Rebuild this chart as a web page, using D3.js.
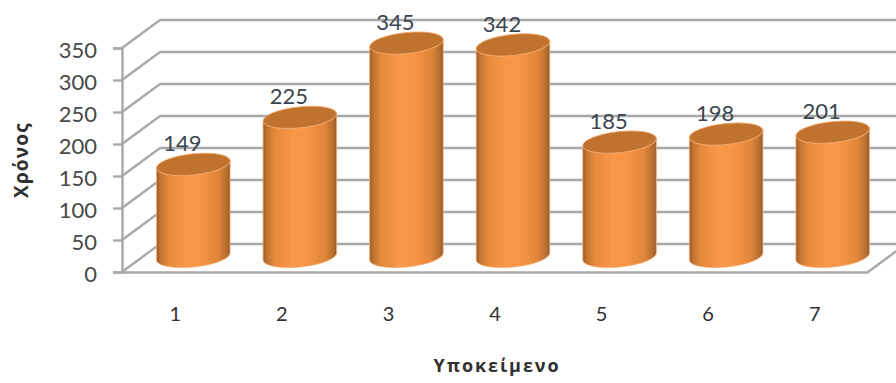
<!DOCTYPE html>
<html lang="el">
<head>
<meta charset="utf-8">
<script src="https://cdn.jsdelivr.net/npm/d3@7"></script>
<style>
html, body { margin: 0; padding: 0; background: #fff; }
svg { display: block; }
text { font-family: Lato, "Open Sans", sans-serif; }
</style>
</head>
<body>
<svg id="chart" width="896" height="383"></svg>
<script>
const subjects = ["1", "2", "3", "4", "5", "6", "7"];
const times = [149, 225, 345, 342, 185, 198, 201];
const yTicks = [0, 50, 100, 150, 200, 250, 300, 350];
const xTitle = "Υποκείμενο";
const yTitle = "Χρόνος";

const W = 896, H = 383;
// Oblique projection of the chart box: the back wall sits up and to the right.
const depthX = 38, depthY = -28;
const svg = d3.select("#chart");

const x = d3.scaleBand().domain(subjects).range([122, 868]);
const y = d3.scaleLinear().domain([0, 350]).range([272, 48]);
// Cylinders stand midway through the depth of the box.
const barY = d3.scaleLinear().domain([0, 350]).range([256.5, 40]);
const barCx = s => x(s) + x.bandwidth() / 2 + depthX / 2 - 1;

const rx = 37, ry = 10.5, tilt = 6;
const cosT = Math.cos(tilt * Math.PI / 180), sinT = Math.sin(tilt * Math.PI / 180);

const defs = svg.append("defs");
const side = defs.append("linearGradient").attr("id", "cyl-side");
[[0, "#96592a"], [0.05, "#c07431"], [0.16, "#e6893b"], [0.4, "#f9974a"], [0.6, "#f79445"],
 [0.84, "#e0853a"], [0.95, "#b86f30"], [1, "#96592a"]]
  .forEach(([o, c]) => side.append("stop").attr("offset", o).attr("stop-color", c));

const gridColor = "#a9a9a9", gridWidth = 2.4;

// Back wall gridlines and the oblique side-wall lines running to them.
const walls = svg.append("g").attr("fill", "none").attr("stroke", gridColor).attr("stroke-width", gridWidth);
walls.selectAll("line.back").data(yTicks).join("line").attr("class", "back")
  .attr("x1", 122 + depthX).attr("x2", W)
  .attr("y1", d => y(d) + depthY).attr("y2", d => y(d) + depthY);
walls.selectAll("line.sidewall").data(yTicks).join("line").attr("class", "sidewall")
  .attr("x1", 122).attr("x2", 122 + depthX)
  .attr("y1", d => y(d)).attr("y2", d => y(d) + depthY);
// Floor edge on the right of the box.
walls.append("line")
  .attr("x1", x.range()[1]).attr("y1", y(0))
  .attr("x2", x.range()[1] + depthX).attr("y2", y(0) + depthY);

// Value axis with outward ticks.
const yAxis = svg.append("g").attr("transform", "translate(122,0)")
  .call(d3.axisLeft(y).tickValues(yTicks).tickSize(9).tickPadding(16));
yAxis.selectAll("path,line").attr("stroke", gridColor).attr("stroke-width", gridWidth);
yAxis.selectAll("text").attr("fill", "#484848").style("font-size", "22px")
  .style("font-family", "Lato, sans-serif").attr("dy", "0.42em");

// Category axis: the front floor edge, with plain labels below it.
const xAxis = svg.append("g").attr("transform", `translate(0,${y(0)})`)
  .call(d3.axisBottom(x).tickSize(0).tickPadding(35));
xAxis.selectAll("path").attr("stroke", gridColor).attr("stroke-width", gridWidth);
xAxis.selectAll("text").attr("fill", "#303030").style("font-size", "20px")
  .style("font-family", "Lato, sans-serif");

// Body outline of a cylinder: down the left side, round the front of the base, back up the right.
function bodyPath(v, s) {
  const cx = barCx(s), top = barY(v), base = barY(0);
  const dx = rx * cosT, dy = rx * sinT;
  return `M${cx - dx},${top + dy}` +
    `L${cx - dx},${base + dy}` +
    `A${rx},${ry} ${-tilt} 0 0 ${cx + dx},${base - dy}` +
    `L${cx + dx},${top - dy}` +
    `A${rx},${ry} ${-tilt} 0 1 ${cx - dx},${top + dy}Z`;
}

const bars = svg.selectAll("g.cylinder").data(subjects.map((s, i) => ({ s, v: times[i] })))
  .join("g").attr("class", "cylinder");
bars.append("path")
  .attr("d", d => bodyPath(d.v, d.s))
  .attr("fill", "url(#cyl-side)")
  .attr("stroke", "#f6b27a").attr("stroke-width", 0.8);
bars.append("ellipse")
  .attr("rx", rx).attr("ry", ry)
  .attr("transform", d => `translate(${barCx(d.s)},${barY(d.v)}) rotate(${-tilt})`)
  .attr("fill", "#c0722f")
  .attr("stroke", "#f3a767").attr("stroke-width", 0.8);

// Value labels float above each cylinder's top.
svg.selectAll("text.value").data(subjects.map((s, i) => ({ s, v: times[i] })))
  .join("text").attr("class", "value")
  .attr("x", d => barCx(d.s) - 11)
  .attr("y", d => barY(d.v) - 13)
  .attr("text-anchor", "middle")
  .attr("fill", "#3b4550")
  .style("font-size", "22px")
  .text(d => d.v);

svg.append("text")
  .attr("x", 497).attr("y", 372)
  .attr("text-anchor", "middle")
  .attr("fill", "#303030")
  .style("font-family", "'Open Sans', sans-serif")
  .style("font-weight", 700).style("font-size", "18px").style("letter-spacing", "1.9px")
  .text(xTitle);

svg.append("text")
  .attr("transform", "translate(28,160) rotate(-90)")
  .attr("text-anchor", "middle")
  .attr("fill", "#303030")
  .style("font-family", "'Open Sans', sans-serif")
  .style("font-weight", 700).style("font-size", "19px").style("letter-spacing", "1.2px")
  .text(yTitle);
</script>
</body>
</html>
